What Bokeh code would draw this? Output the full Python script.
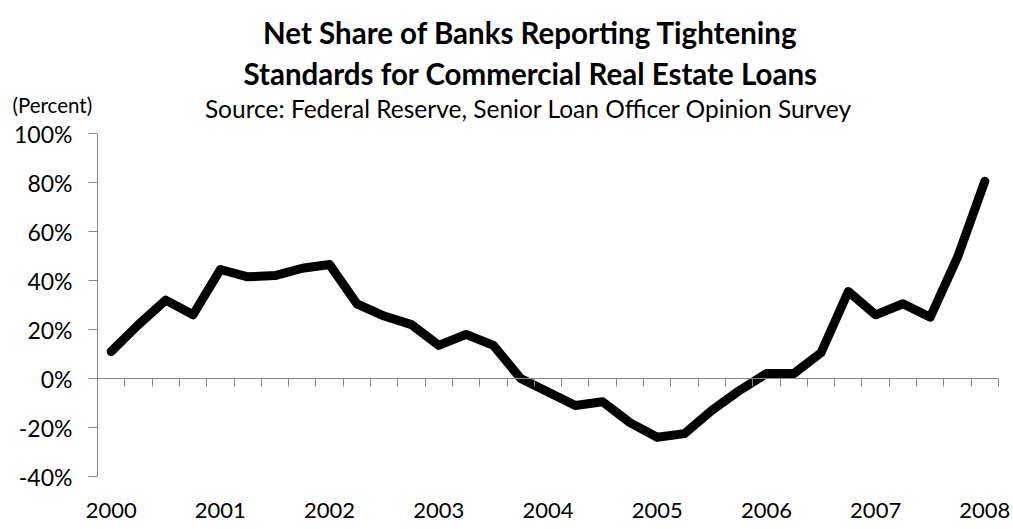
from bokeh.plotting import figure
from bokeh.models import Range1d, FixedTicker, PrintfTickFormatter, LinearAxis
from bokeh.core.properties import value
from bokeh.embed import file_html
from bokeh.resources import INLINE

# ---- data (quarterly, 2000Q1 .. 2008Q1), net % of banks tightening CRE standards
net_tightening = [11, 22, 32, 26, 44.5, 41.5, 42, 45, 46.5, 30.5, 25.5, 22,
                  13.5, 18, 13.5, 0, -5.5, -11, -9.5, -18, -24, -22.5, -13, -5,
                  2, 2, 10.5, 35.5, 26, 30.5, 25, 49.5, 80.5]
quarter_index = list(range(len(net_tightening)))
year_labels = ["2000", "2001", "2002", "2003", "2004", "2005", "2006", "2007", "2008"]
year_positions = [0, 4, 8, 12, 16, 20, 24, 28, 32]
y_ticks = [-40, -20, 0, 20, 40, 60, 80, 100]

title_line1 = "Net Share of Banks Reporting Tightening"
title_line2 = "Standards for Commercial Real Estate Loans"
subtitle = "Source: Federal Reserve, Senior Loan Officer Opinion Survey"
unit_label = "(Percent)"

# ---- layout geometry (pixels)
W, H = 1013, 529
PLOT_L, PLOT_R = 97, 998      # category axis extent
PLOT_T, PLOT_B = 133, 476     # value axis extent (100% .. -40%)
Y_MIN, Y_MAX = -40, 100
N = len(net_tightening)
X_MIN, X_MAX = -0.5, N - 0.5

FONT = "Lato"
GRAY = "#868686"

# the frame covers the whole canvas; ranges are extended so that the
# plotting area sits where the reference has it
kx = (X_MAX - X_MIN) / (PLOT_R - PLOT_L)
ky = (Y_MAX - Y_MIN) / (PLOT_B - PLOT_T)
x_start = X_MIN - PLOT_L * kx
x_end = X_MAX + (W - PLOT_R) * kx
y_start = Y_MIN - (H - PLOT_B) * ky
y_end = Y_MAX + PLOT_T * ky


def dx(px):
    return x_start + px * kx


def dy(py):
    return y_end - py * ky


p = figure(width=W, height=H, output_backend="svg", toolbar_location=None,
           x_range=Range1d(x_start, x_end), y_range=Range1d(y_start, y_end),
           x_axis_location=None, y_axis_location=None,
           min_border=0, min_border_left=0, min_border_right=0,
           min_border_top=0, min_border_bottom=0)
p.outline_line_color = None
p.xgrid.visible = False
p.ygrid.visible = False
p.background_fill_color = "white"
p.border_fill_color = "white"

p.line(quarter_index, net_tightening, line_color="black", line_width=9,
       line_join="round", line_cap="round")

# value axis
ya = LinearAxis(fixed_location=X_MIN, bounds=(Y_MIN, Y_MAX),
                ticker=FixedTicker(ticks=y_ticks),
                formatter=PrintfTickFormatter(format="%d%%"))
ya.axis_line_color = GRAY
ya.major_tick_line_color = GRAY
ya.minor_tick_line_color = None
ya.major_tick_out = 9
ya.major_tick_in = 0
ya.major_label_standoff = 16
ya.major_label_text_font = FONT
ya.major_label_text_font_size = "23px"
ya.major_label_text_color = "black"
p.add_layout(ya, "left")

# zero-line category axis with tick marks between quarters
boundaries = [i - 0.5 for i in range(N + 1)]
za = LinearAxis(fixed_location=0, bounds=(X_MIN, X_MAX),
                ticker=FixedTicker(ticks=boundaries))
za.major_label_overrides = {b: "" for b in boundaries}
za.axis_line_color = GRAY
za.major_tick_line_color = GRAY
za.minor_tick_line_color = None
za.major_tick_out = 8
za.major_tick_in = 0
za.major_label_standoff = 0
za.major_label_text_font_size = "1px"
p.add_layout(za, "below")

# year labels at the bottom of the plotting area
xa = LinearAxis(fixed_location=Y_MIN, ticker=FixedTicker(ticks=year_positions))
xa.major_label_overrides = {pos: lab for pos, lab in zip(year_positions, year_labels)}
xa.axis_line_color = None
xa.major_tick_line_color = None
xa.minor_tick_line_color = None
xa.major_tick_out = 0
xa.major_tick_in = 0
xa.major_label_standoff = 26
xa.major_label_text_font = FONT
xa.major_label_text_font_size = "22px"
xa.major_label_text_color = "black"
p.add_layout(xa, "below")

# titles
p.text(x=[dx(530)], y=[dy(32)], text=[title_line1], text_align="center",
       text_baseline="alphabetic", text_font=value(FONT), text_font_style="bold",
       text_font_size="29.5px", text_color="black")
p.text(x=[dx(530)], y=[dy(73)], text=[title_line2], text_align="center",
       text_baseline="alphabetic", text_font=value(FONT), text_font_style="bold",
       text_font_size="29.5px", text_color="black")
p.text(x=[dx(528)], y=[dy(108)], text=[subtitle], text_align="center",
       text_baseline="alphabetic", text_font=value(FONT),
       text_font_size="24.5px", text_color="black")
p.text(x=[dx(12)], y=[dy(104)], text=[unit_label], text_align="left",
       text_baseline="alphabetic", text_font=value(FONT),
       text_font_size="20.5px", text_color="black")

open("out.html", "w").write(file_html(p, INLINE))
